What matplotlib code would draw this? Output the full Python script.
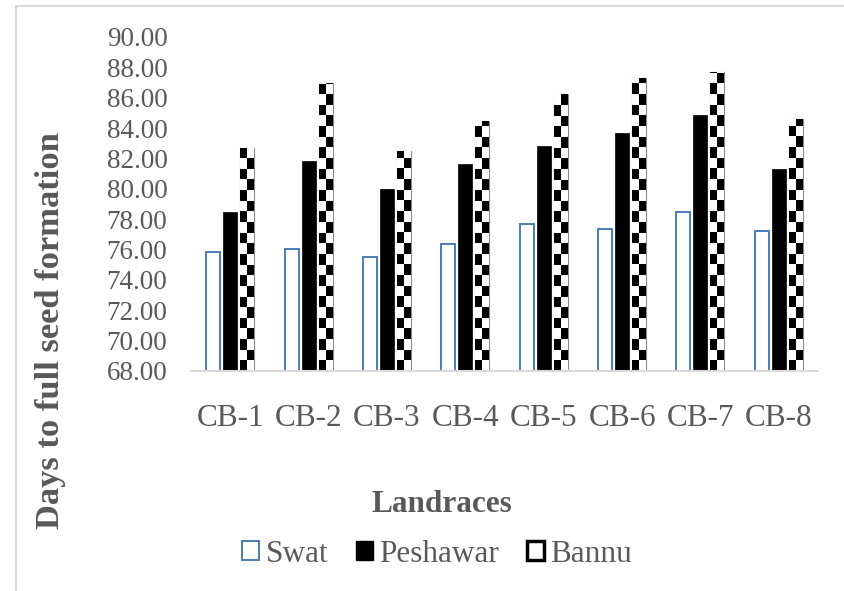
import numpy as np
import matplotlib
matplotlib.use('Agg')
import matplotlib.pyplot as plt
from matplotlib.patches import Patch, Rectangle

plt.rcParams['font.family'] = ['Liberation Serif', 'DejaVu Serif']

# data
landraces = ['CB-1', 'CB-2', 'CB-3', 'CB-4', 'CB-5', 'CB-6', 'CB-7', 'CB-8']
swat = [75.85, 76.03, 75.50, 76.38, 77.70, 77.37, 78.50, 77.20]
peshawar = [78.50, 81.85, 80.00, 81.64, 82.84, 83.67, 84.85, 81.30]
bannu = [82.67, 87.00, 82.50, 84.50, 86.23, 87.32, 87.70, 84.60]
yticks = np.arange(68, 91, 2)

grey = '#595959'
W, H = 844, 591
fig = plt.figure(figsize=(W / 100, H / 100), dpi=100)

# faint outer chart border (left + top visible)
fig.patches.append(Rectangle((16 / W, -0.2), 1.2, 1.2 - 6 / H, transform=fig.transFigure,
                             fill=False, edgecolor='#d9d9d9', linewidth=1.5))

ax = fig.add_axes([191 / W, 1 - 371 / H, (818 - 191) / W, (371 - 37) / H])

x = np.arange(len(landraces))
bw = 0.178
step = 0.217
ax.bar(x - step, swat, bw, color='white', edgecolor='#4a7ebb', linewidth=1.4)
ax.bar(x, peshawar, bw, color='black', edgecolor='black', linewidth=0.5)
bb = ax.bar(x + step, bannu, bw, color='white', edgecolor='#8c8c8c', linewidth=0.8)

# checkerboard fill for Bannu
cell = 0.70
for p, v in zip(bb.patches, bannu):
    n = int(np.ceil((v - 68) / cell))
    arr = (np.add.outer(np.arange(n), np.arange(2)) % 2).astype(float)
    im = ax.imshow(arr, cmap='gray', vmin=0, vmax=1, interpolation='nearest', aspect='auto',
                   extent=(p.get_x(), p.get_x() + p.get_width(), 68 + n * cell, 68), zorder=2.5)
    im.set_clip_path(p)

ax.set_xlim(-0.5, len(landraces) - 0.5)
ax.set_ylim(68, 90)
ax.set_yticks(yticks)
ax.set_yticklabels(['%.2f' % t for t in yticks])
ax.set_xticks(x)
ax.set_xticklabels(landraces)
ax.tick_params(axis='y', length=0, pad=17, labelsize=19.5, labelcolor=grey)
ax.tick_params(axis='x', length=0, pad=24, labelsize=22.5, labelcolor=grey)
for s in ['left', 'right', 'top']:
    ax.spines[s].set_visible(False)
ax.spines['bottom'].set_color('#d9d9d9')
ax.spines['bottom'].set_linewidth(1.5)
ax.spines['bottom'].set_zorder(5)

fig.text(51 / W, 1 - 331 / H, 'Days to full seed formation', rotation=90, ha='center', va='center',
         fontsize=24.8, fontweight='bold', color=grey)
fig.text(442 / W, 1 - 505 / H, 'Landraces', ha='center', va='center',
         fontsize=22.5, fontweight='bold', color=grey)

handles = [Patch(facecolor='white', edgecolor='#4a7ebb', linewidth=1.4),
           Patch(facecolor='black', edgecolor='black'),
           Patch(facecolor='white', edgecolor='black', linewidth=2.5)]
leg = fig.legend(handles, ['Swat', 'Peshawar', 'Bannu'], loc='center', ncol=3, frameon=False,
                 bbox_to_anchor=(437 / W, 1 - 554 / H), fontsize=22.5, handlelength=0.55,
                 handleheight=0.55, handletextpad=0.2, columnspacing=0.88)
for t in leg.get_texts():
    t.set_color(grey)

fig.savefig('out.png', dpi=100)
